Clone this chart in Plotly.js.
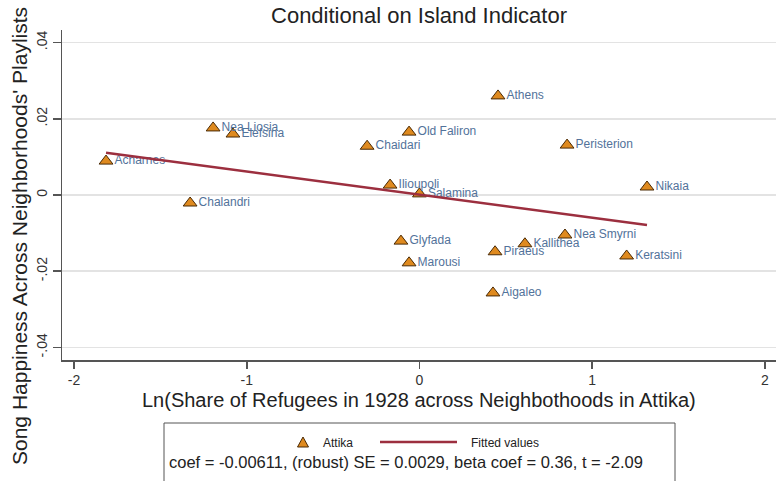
<!DOCTYPE html>
<html><head><meta charset="utf-8">
<script src="https://cdn.plot.ly/plotly-3.0.1.min.js"></script>
<style>html,body{margin:0;padding:0;background:#fff}</style>
</head><body><div id="chart" style="width:776px;height:481px"></div>
<script>
const neighborhoods = ['Acharnes','Nea Liosia','Elefsina','Chalandri','Chaidari','Ilioupoli','Salamina','Old Faliron','Glyfada','Marousi','Athens','Piraeus','Aigaleo','Kallithea','Nea Smyrni','Peristerion','Keratsini','Nikaia'];
const refugeeShareLn = [-1.815,-1.195,-1.08,-1.328,-0.303,-0.17,0.0,-0.06,-0.107,-0.06,0.455,0.438,0.426,0.611,0.843,0.855,1.20,1.318];
const songHappiness = [0.0089,0.0176,0.016,-0.0021,0.0128,0.0026,0.0003,0.0165,-0.0121,-0.0178,0.026,-0.0149,-0.0257,-0.0128,-0.0105,0.0131,-0.016,0.0021];
const fitX = [-1.815, 1.318];
const fitY = [0.0111, -0.0079];
const xTickVals = [-2,-1,0,1,2];
const xTickText = ['-2','-1','0','1','2'];
const yTickVals = [0.04,0.02,0,-0.02,-0.04];
const yTickText = ['.04','.02','0','-.02','-.04'];
const legendScatterLabel = 'Attika';
const legendFitLabel = 'Fitted values';
const statsText = 'coef = -0.00611, (robust) SE = 0.0029, beta coef = 0.36, t = -2.09';

const W = 776, H = 481, ML = 62, MR = 0, MT = 30, MB = 121;
const PW = W - ML - MR, PH = H - MT - MB;
const px = v => (v - ML) / PW;
const py = v => (H - MB - v) / PH;

const ORANGE = '#df8a1f', EDGE = '#4a2a05', LINE = '#9c2f3f';
const FONT = 'Arial, Liberation Sans, sans-serif';
const NARROW = 'Liberation Sans Narrow, Arial Narrow, Arial, sans-serif';

const traces = [
  {
    x: refugeeShareLn, y: songHappiness, text: neighborhoods,
    type: 'scatter', mode: 'markers+text', textposition: 'middle right',
    textfont: {family: FONT, size: 12, color: '#52729a'},
    marker: {symbol: 'triangle-up', size: 12, color: ORANGE, line: {color: EDGE, width: 1}},
    cliponaxis: false, showlegend: false, hoverinfo: 'skip'
  },
  {
    x: fitX, y: fitY, type: 'scatter', mode: 'lines',
    line: {color: LINE, width: 2.5}, showlegend: false, hoverinfo: 'skip'
  }
];

// legend geometry (pixels)
const triCx = 303, triCy = 442, triH = 10, triW = 11;
const shapes = [
  {type: 'rect', xref: 'paper', yref: 'paper', x0: px(164), x1: px(675), y0: py(423), y1: py(490),
   line: {color: '#555', width: 1}, fillcolor: 'rgba(0,0,0,0)'},
  {type: 'path', xref: 'paper', yref: 'paper',
   path: `M ${px(triCx - triW/2)} ${py(triCy + triH/2)} L ${px(triCx + triW/2)} ${py(triCy + triH/2)} L ${px(triCx)} ${py(triCy - triH/2)} Z`,
   fillcolor: ORANGE, line: {color: EDGE, width: 1}},
  {type: 'line', xref: 'paper', yref: 'paper', x0: px(380), x1: px(457), y0: py(442), y1: py(442),
   line: {color: LINE, width: 2.5}}
];

const annotations = [
  {text: 'Ln(Share of Refugees in 1928 across Neighbothoods in Attika)', xref: 'paper', yref: 'paper',
   x: px(419), y: py(400), xanchor: 'center', yanchor: 'middle', showarrow: false,
   font: {family: FONT, size: 20, color: '#222'}},
  {text: "Song Happiness Across Neighborhoods' Playlists", xref: 'paper', yref: 'paper',
   x: px(19), y: py(236), xanchor: 'center', yanchor: 'middle', textangle: -90, showarrow: false,
   font: {family: FONT, size: 21, color: '#222'}},
  {text: legendScatterLabel, xref: 'paper', yref: 'paper', x: px(321), y: py(443),
   xanchor: 'left', yanchor: 'middle', showarrow: false,
   font: {family: NARROW, size: 12, color: '#222'}},
  {text: legendFitLabel, xref: 'paper', yref: 'paper', x: px(469), y: py(443),
   xanchor: 'left', yanchor: 'middle', showarrow: false,
   font: {family: NARROW, size: 12, color: '#222'}},
  {text: statsText, xref: 'paper', yref: 'paper', x: px(167), y: py(462),
   xanchor: 'left', yanchor: 'middle', showarrow: false,
   font: {family: FONT, size: 16.5, color: '#222'}}
];

const layout = {
  width: W, height: H,
  margin: {l: ML, r: MR, t: MT, b: MB, pad: 0},
  paper_bgcolor: '#fff', plot_bgcolor: '#fff',
  title: {text: 'Conditional on Island Indicator', x: px(419), xref: 'paper', y: 1 - 15 / H, yref: 'container',
          xanchor: 'center', yanchor: 'middle',
          font: {family: FONT, size: 22, color: '#222'}},
  xaxis: {range: [-2.07, 2.065], tickvals: xTickVals, ticktext: xTickText, ticks: 'outside', ticklen: 7,
          tickcolor: '#555', tickwidth: 1.5, showline: true, linecolor: '#555', linewidth: 1.5,
          showgrid: false, zeroline: false, ticklabelstandoff: 0,
          tickfont: {family: FONT, size: 14, color: '#333'}},
  yaxis: {range: [-0.0433, 0.0433], tickvals: yTickVals, ticktext: yTickText, ticks: 'outside', ticklen: 8,
          tickcolor: '#555', tickwidth: 1.5, showline: true, linecolor: '#555', linewidth: 1.5,
          showgrid: true, gridcolor: '#e3e3e3', gridwidth: 1.5, zeroline: false, tickangle: -90,
          tickfont: {family: FONT, size: 14, color: '#333'}},
  shapes: shapes, annotations: annotations, showlegend: false
};

Plotly.newPlot('chart', traces, layout, {staticPlot: true, displayModeBar: false});
</script></body></html>
